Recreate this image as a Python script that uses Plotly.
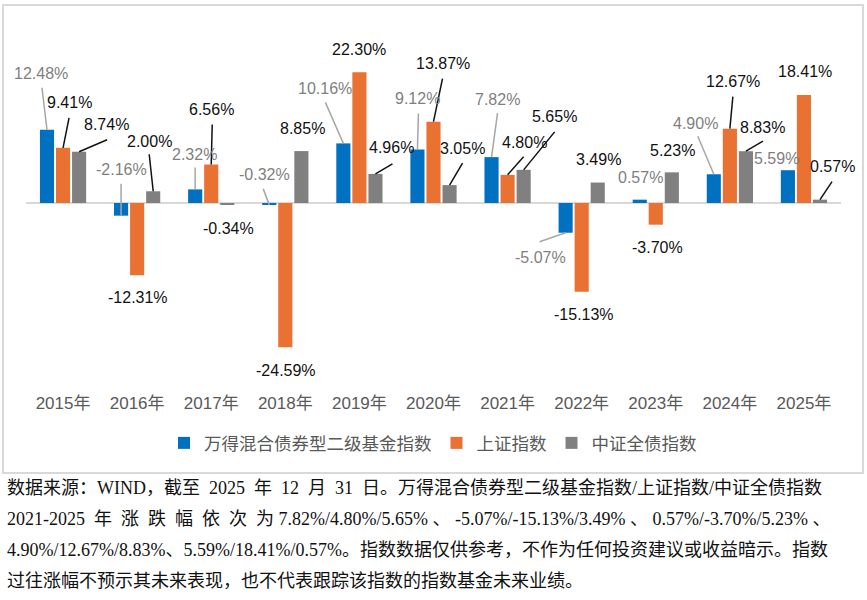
import plotly.graph_objects as go

# ---------------- data ----------------
years = ["2015年", "2016年", "2017年", "2018年", "2019年", "2020年",
         "2021年", "2022年", "2023年", "2024年", "2025年"]
wande = [12.48, -2.16, 2.32, -0.32, 10.16, 9.12, 7.82, -5.07, 0.57, 4.90, 5.59]
shanghai = [9.41, -12.31, 6.56, -24.59, 22.30, 13.87, 4.80, -15.13, -3.70, 12.67, 18.41]
bond = [8.74, 2.00, -0.34, 8.85, 4.96, 3.05, 5.65, 3.49, 5.23, 8.83, 0.57]
series_names = ["万得混合债券型二级基金指数", "上证指数", "中证全债指数"]

footnote_lines = [
    "数据来源：WIND，截至\u20022025\u2002年\u200212\u2002月\u200231\u2002日。万得混合债券型二级基金指数/上证指数/中证全债指数",
    "2021-2025\u2002年\u2002涨\u2002跌\u2002幅\u2002依\u2002次\u2002为 7.82%/4.80%/5.65% 、 -5.07%/-15.13%/3.49% 、 0.57%/-3.70%/5.23% 、",
    "4.90%/12.67%/8.83%、5.59%/18.41%/0.57%。指数数据仅供参考，不作为任何投资建议或收益暗示。指数",
    "过往涨幅不预示其未来表现，也不代表跟踪该指数的指数基金未来业绩。",
]

# ---------------- styling / layout constants ----------------
W, H = 867, 600
PL, PR, PT, PB = 26, 841, 27, 379   # plot area in pixels
colors = ["#0070C0", "#E97132", "#808080"]
label_colors = ["#7F7F7F", "#111111", "#111111"]
leader_colors = ["#A6A6A6", "#111111", "#111111"]
LABEL_FONT = "Liberation Sans, Arial, Noto Sans CJK SC"
CJK_FONT = "Noto Sans CJK SC, Liberation Sans"
SLOT = 0.2168  # bar slot width in category units

# label offsets (screen px, dy downward) relative to bar end, and leader line ends
label_off = [
    [(-6, -56), (0, -46), (-1, -35), (-5, -30), (-18, -55), (0, -51), (6, -58), (-25, 25), (1, -22), (-18, -51), (-11, -12)],
    [(6, -45), (1, 22), (0, -55), (1, 23), (0, -23), (9, -58), (17, -32), (2, 23), (2, 23), (3, -47), (1, -23)],
    [(27, -27), (-4, -50), (1, 24), (1, -23), (16, -26), (13, -37), (31, -53), (1, -23), (1, -22), (17, -24), (12, -33)],
]
leader_end = [
    [(-5, -42), (0, -32), (0, -22), (-6, -16), (-18, -41), (1, -36), (6, -44), (-26, 9), None, (-16, -38), None],
    [(6, -30), None, (1, -40), None, None, (9, -43), (16, -18), None, None, (3, -32), None],
    [(28, -12), (-4, -37), None, None, (17, -10), (13, -22), (31, -38), None, None, (17, -10), (12, -18)],
]

fig = go.Figure()
all_series = [wande, shanghai, bond]
for s, vals in enumerate(all_series):
    fig.add_trace(go.Bar(
        x=years, y=vals, name=series_names[s],
        marker=dict(color=colors[s], line=dict(width=0)),
    ))

annotations = []
shapes = []
for s, vals in enumerate(all_series):
    for i, v in enumerate(vals):
        xpos = i + (s - 1) * SLOT
        dx, dy = label_off[s][i]
        annotations.append(dict(
            x=xpos, y=v, xref="x", yref="y", text=f"{v:.2f}%",
            showarrow=False, xshift=dx, yshift=-dy,
            font=dict(family=LABEL_FONT, size=16, color=label_colors[s]),
        ))
        le = leader_end[s][i]
        if le is not None:
            shapes.append(dict(
                type="line", xref="x", yref="y",
                xsizemode="pixel", ysizemode="pixel",
                xanchor=xpos, yanchor=v,
                x0=0, y0=0, x1=le[0], y1=-le[1],
                line=dict(color=leader_colors[s], width=1.5),
                layer="above",
            ))

# chart border
shapes.append(dict(
    type="rect", xref="paper", yref="paper",
    x0=3 / W, x1=863 / W, y0=1 - 473 / H, y1=1 - 5 / H,
    line=dict(color="#D9D9D9", width=2), fillcolor="rgba(0,0,0,0)", layer="below",
))

# footnote
foot_y = [488, 519, 550, 581]
for line, py in zip(footnote_lines, foot_y):
    annotations.append(dict(
        x=5 / W, y=1 - py / H, xref="paper", yref="paper",
        xanchor="left", yanchor="middle", showarrow=False, text=line,
        font=dict(family="Liberation Serif, Noto Sans CJK SC", size=18, color="#111111"),
    ))

fig.update_layout(
    width=W, height=H, autosize=False,
    margin=dict(l=0, r=0, t=0, b=0),
    paper_bgcolor="white", plot_bgcolor="white",
    barmode="group", bargap=0.35, bargroupgap=0.12,
    showlegend=True,
    legend=dict(
        orientation="h", x=433 / W, xanchor="center", y=1 - 443 / H, yanchor="middle",
        font=dict(family=CJK_FONT, size=17.5, color="#595959"),
        bgcolor="rgba(0,0,0,0)", itemwidth=30, tracegroupgap=0,
    ),
    xaxis=dict(
        domain=[PL / W, PR / W], range=[-0.5, len(years) - 0.5], autorange=False,
        showgrid=False, showline=False, ticks="",
        ticklabelstandoff=12,
        tickfont=dict(family="Liberation Sans, Noto Sans CJK SC", size=17, color="#595959"),
    ),
    yaxis=dict(
        domain=[1 - PB / H, 1 - PT / H], range=[-30, 30], autorange=False, showgrid=False,
        showticklabels=False, showline=False, ticks="",
        zeroline=True, zerolinecolor="#D9D9D9", zerolinewidth=2,
    ),
    annotations=annotations, shapes=shapes,
)

fig.write_html("out.html")
